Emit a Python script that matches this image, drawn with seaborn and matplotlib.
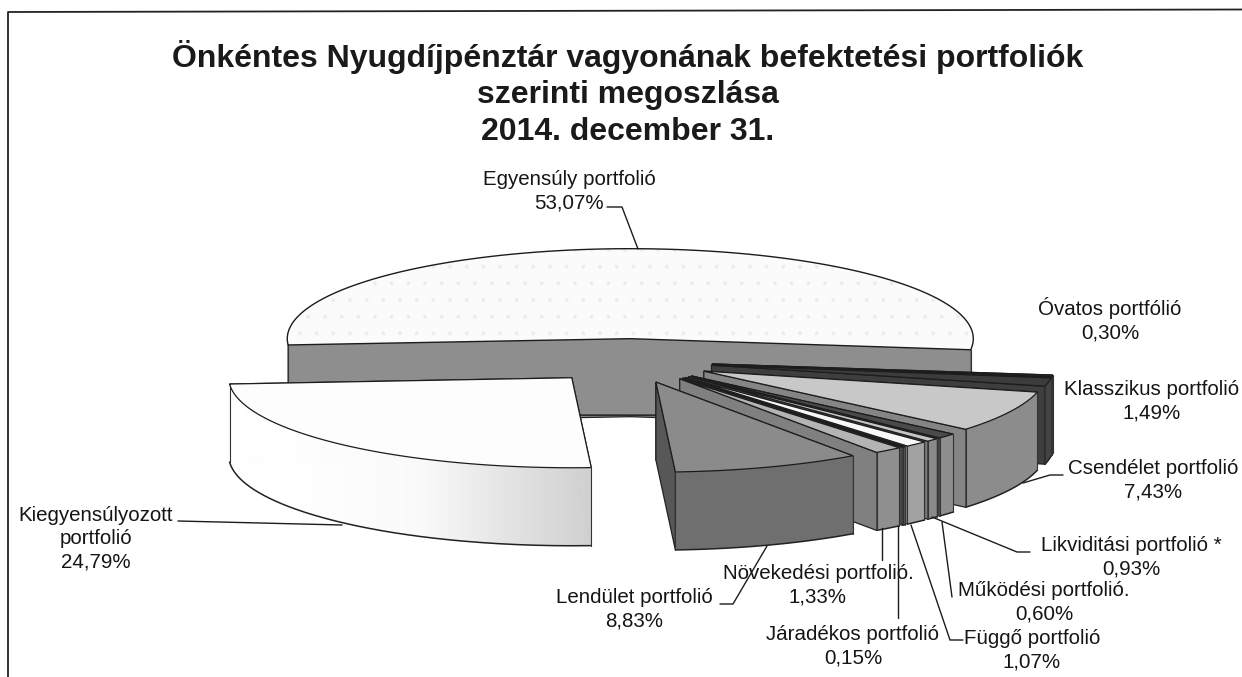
import numpy as np
import matplotlib
matplotlib.use("Agg")
import matplotlib.pyplot as plt
import seaborn as sns

# Values as printed on the chart, in drawing order round the pie
portfolios = ["Kiegyensúlyozott", "Lendület", "Növekedési", "Járadékos", "Függő",
              "Működési", "Likviditási", "Csendélet", "Klasszikus", "Óvatos", "Egyensúly"]
shares = [24.79, 8.83, 1.33, 0.15, 1.07, 0.60, 0.93, 7.43, 1.49, 0.30, 53.07]

top_colors = ["#fdfdfd", "#8b8b8b", "#b4b4b4", "#2e2e2e", "#f8f8f8",
              "#c6c6c6", "#4a4a4a", "#c8c8c8", "#3c3c3c", "#303030", "#fbfbfb"]
wall_colors = ["#fbfbfb", "#6f6f6f", "#8f8f8f", "#5c5c5c", "#a2a2a2",
               "#8a8a8a", "#8e8e8e", "#8c8c8c", "#444444", "#333333", "#8e8e8e"]
side_colors = ["#d2d2d2", "#575757", "#808080", "#4c4c4c", "#9a9a9a",
               "#7c7c7c", "#454545", "#858585", "#3e3e3e", "#2c2c2c", "#8e8e8e"]

title_lines = ["Önkéntes Nyugdíjpénztár vagyonának befektetési portfoliók",
               "szerinti megoszlása", "2014. december 31."]

# Pie projection, in figure pixels
CX, CY = 628, 361
RX, RY = 343, 90
DEPTH = 78
EXPLODE = 0.248
START = 184

# label text, block centre x, block centre y
labels = [
    ("Egyensúly portfolió\n53,07%", 569, 191),
    ("Óvatos portfólió\n0,30%", 1110, 320),
    ("Klasszikus portfolió\n1,49%", 1152, 401),
    ("Csendélet portfolió\n7,43%", 1153, 480),
    ("Likviditási portfolió *\n0,93%", 1131, 557),
    ("Működési portfolió.\n0,60%", 1044, 602),
    ("Függő portfolió\n1,07%", 1032, 650),
    ("Járadékos portfolió\n0,15%", 853, 646),
    ("Növekedési portfolió.\n1,33%", 818, 585),
    ("Lendület portfolió\n8,83%", 634, 609),
    ("Kiegyensúlyozott\nportfolió\n24,79%", 96, 539),
]

leaders = [
    [(607, 207), (622, 207), (638, 249)],
    [(178, 521), (342, 525)],
    [(720, 604), (733, 604), (767, 546)],
    [(882, 528), (882, 560)],
    [(898, 526), (898, 618)],
    [(911, 525), (950, 640), (963, 640)],
    [(942, 522), (952, 597)],
    [(932, 517), (1017, 552), (1030, 552)],
    [(1023, 483), (1050, 475), (1063, 475)],
]

sns.set_theme(style="white")
plt.rcParams["font.family"] = ["Liberation Sans", "DejaVu Sans"]
plt.rcParams["hatch.linewidth"] = 0.3

fig = plt.figure(figsize=(12.42, 6.77), dpi=100)
ax = fig.add_axes([0, 0, 1, 1])
ax.set_xlim(0, 1242)
ax.set_ylim(677, 0)
ax.axis("off")

sweeps = np.array(shares) / sum(shares) * 360
starts = START + np.concatenate([[0], np.cumsum(sweeps)[:-1]])


def rim(cx, cy, t):
    return cx + RX * np.cos(t), cy - RY * np.sin(t)


def draw_slice(i):
    t0, sweep = starts[i], sweeps[i]
    mid = np.radians(t0 + sweep / 2)
    cx, cy = rim(CX, CY, mid)
    cx, cy = CX + EXPLODE * (cx - CX), CY + EXPLODE * (cy - CY)
    t = np.radians(np.linspace(t0, t0 + sweep, max(int(sweep * 2), 4)))
    x, y = rim(cx, cy, t)
    z = i_order[i]

    # inner walls, the far one first
    for k in (-1, 0):
        ax.fill([cx, x[k], x[k], cx], [cy, y[k], y[k] + DEPTH, cy + DEPTH],
                fc=side_colors[i], ec="#222222", lw=0.9, zorder=z)

    # outer wall, only the part facing the viewer
    front = np.sin(t) < 0.02
    if front.sum() > 1:
        fx, fy = x[front], y[front]
        if portfolios[i] == "Kiegyensúlyozott":
            shades = sns.blend_palette(["#ffffff", "#ffffff", "#fafafa", "#d0d0d0"], len(fx))
            for j in range(len(fx) - 1):
                ax.fill([fx[j], fx[j + 1], fx[j + 1], fx[j]],
                        [fy[j], fy[j + 1], fy[j + 1] + DEPTH, fy[j] + DEPTH],
                        fc=shades[j], ec=shades[j], lw=0.6, zorder=z)
        else:
            ax.fill(np.r_[fx, fx[::-1]], np.r_[fy, fy[::-1] + DEPTH],
                    fc=wall_colors[i], ec="none", zorder=z)
        ax.plot(fx, fy + DEPTH, color="#222222", lw=1.1, zorder=z)
        for k in (0, -1):
            ax.plot([fx[k], fx[k]], [fy[k], fy[k] + DEPTH], color="#333333", lw=0.8, zorder=z)

    # top face, faintly stippled on the biggest slice
    if portfolios[i] == "Egyensúly":
        ax.fill(np.r_[cx, x], np.r_[cy, y], fc=top_colors[i], ec="#ececec", lw=0,
                hatch=".", zorder=z)
        ax.fill(np.r_[cx, x], np.r_[cy, y], fc="none", ec="#1c1c1c", lw=1.0, zorder=z)
    else:
        ax.fill(np.r_[cx, x], np.r_[cy, y], fc=top_colors[i], ec="#1c1c1c", lw=0.9, zorder=z)


# back to front
paint = [10, 0, 9, 8, 7, 6, 5, 4, 3, 2, 1]
i_order = {i: n + 2 for n, i in enumerate(paint)}
for i in paint:
    draw_slice(i)

for pts in leaders:
    xs, ys = zip(*pts)
    ax.plot(xs, ys, color="#1c1c1c", lw=1.0, zorder=20)

for text, x, y in labels:
    ax.text(x, y, text, ha="center", va="center", fontsize=14.8, color="#151515",
            linespacing=1.27, zorder=21)

for line, y in zip(title_lines, [57, 95, 132]):
    ax.text(628, y, line, ha="center", va="center", fontsize=23, fontweight="bold",
            color="#1a1a1a", zorder=21)

# frame of the scanned box: open on the right and at the bottom
ax.plot([1242, 8, 8], [9.5, 12, 677], color="#222222", lw=1.3, zorder=22)

fig.savefig("out.png", dpi=100)
